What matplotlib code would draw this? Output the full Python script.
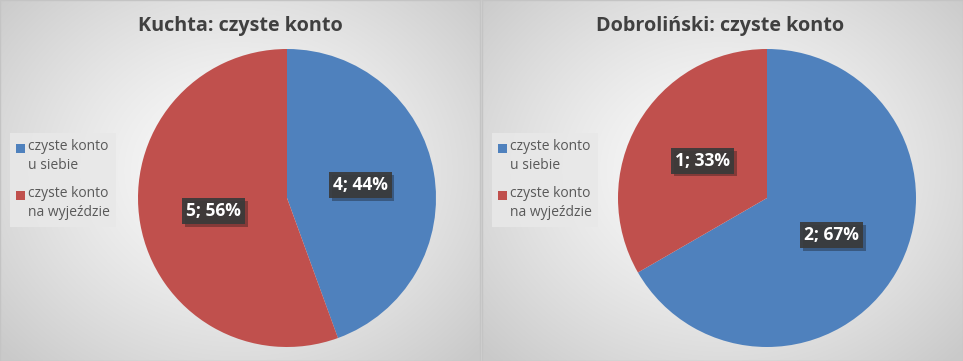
import numpy as np
import matplotlib.pyplot as plt
from matplotlib.patches import Rectangle
import matplotlib.patheffects as pe

plt.rcParams['font.family'] = ['Open Sans', 'DejaVu Sans']

# dane
tytuly = ["Kuchta: czyste konto", "Dobroliński: czyste konto"]
kategorie = ["czyste konto\nu siebie", "czyste konto\nna wyjeździe"]
kuchta = [4, 5]
dobrolinski = [2, 1]
kolory = ['#4f81bd', '#c0504d']

W, H = 963, 361
fig = plt.figure(figsize=(W / 100, H / 100), dpi=100)
fig.patch.set_facecolor('#d4d4d4')


def px(x, y, w, h):
    # prostokat w pikselach (od gory) -> wspolrzedne figury
    return [x / W, 1 - (y + h) / H, w / W, h / H]


# panele: (lewa krawedz, szerokosc, srodek kola x)
panele = [(0, 480, 287), (482, 481, 767)]
dane = [kuchta, dobrolinski]

for (x0, szer, cx), tytul, wart in zip(panele, tytuly, dane):
    # tlo z gradientem
    tlo = fig.add_axes(px(x0, 0, szer, H))
    gx, gy = np.meshgrid(np.linspace(-1, 1, 300), np.linspace(-1, 1, 200))
    r = np.sqrt(gx ** 2 + (gy * 0.9 + 0.05) ** 2)
    g = 0.99 - 0.2 * np.clip(r / 1.35, 0, 1) ** 1.3
    tlo.imshow(np.dstack([g, g, g]), aspect='auto', extent=[0, 1, 0, 1],
               interpolation='bilinear')
    tlo.set_xlim(0, 1)
    tlo.set_ylim(0, 1)
    tlo.set_xticks([])
    tlo.set_yticks([])
    for s in tlo.spines.values():
        s.set_color('#c4c4c4')
        s.set_linewidth(1)

    tlo.text((cx - 47 - x0) / szer, 1 - 26 / H, tytul, ha='center', va='center',
             fontsize=14.2, fontweight='bold', color='#404040')

    # wykres kolowy
    r_px = 149
    ax = fig.add_axes(px(cx - r_px, 198 - r_px, 2 * r_px, 2 * r_px))
    suma = sum(wart)
    wedges, _, auto = ax.pie(
        wart, colors=kolory, startangle=90, counterclock=False,
        autopct=lambda p: f"{round(p * suma / 100)}; {p:.0f}%",
        pctdistance=0.5, radius=1,
        wedgeprops=dict(linewidth=0),
        textprops=dict(color='white', fontsize=12.5, fontweight='bold'))
    for t in auto:
        t.set_bbox(dict(boxstyle='square,pad=0.22', facecolor='#3a3a3a',
                        edgecolor='none', alpha=0.92,
                        path_effects=[pe.withSimplePatchShadow(offset=(2, -2),
                                                               alpha=0.35)]))
    ax.set_xlim(-1, 1)
    ax.set_ylim(-1, 1)
    ax.set_aspect('equal')
    ax.axis('off')

    # legenda
    lx, ly = x0 + 10, 133
    tlo.add_patch(Rectangle(((lx - x0) / szer, 1 - (ly + 94) / H), 106 / szer, 94 / H,
                            transform=tlo.transAxes, facecolor='#e8e8e8',
                            edgecolor='none', alpha=0.9))
    for i, (kat, kol) in enumerate(zip(kategorie, kolory)):
        yy = ly + 15 + i * 47
        tlo.add_patch(Rectangle(((lx + 6 - x0) / szer, 1 - (yy + 4.5) / H), 9 / szer, 9 / H,
                                transform=tlo.transAxes, facecolor=kol,
                                edgecolor='none'))
        tlo.text((lx + 18 - x0) / szer, 1 - (yy - 8.5) / H, kat, ha='left', va='top',
                 fontsize=10, color='#595959', linespacing=1.35)

fig.savefig('out.png', dpi=100, facecolor=fig.get_facecolor())
